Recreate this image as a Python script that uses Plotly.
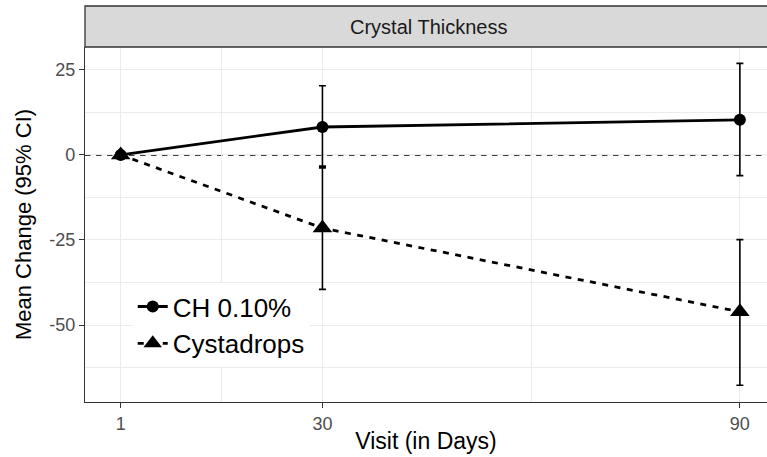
import plotly.graph_objects as go

visits = [1, 30, 90]
tick_labels = ["1", "30", "90"]

ch_name = "CH 0.10%"
ch_mean = [0.0, 8.2, 10.3]
ch_low = [0.0, -3.3, -6.1]
ch_high = [0.0, 20.3, 26.9]

cy_name = "Cystadrops"
cy_mean = [0.0, -21.5, -46.1]
cy_low = [0.0, -39.5, -67.7]
cy_high = [0.0, -3.8, -24.9]

y_ticks = [-50, -25, 0, 25]
y_minor = [-62.5, -37.5, -12.5, 12.5]
x_minor = [15.5, 60]

FONT = "Liberation Sans, Arial, sans-serif"


def err(mean, low, high):
    return dict(
        type="data", symmetric=False,
        array=[h - m for m, h in zip(mean, high)],
        arrayminus=[m - l for m, l in zip(mean, low)],
        color="black", thickness=1.6, width=3.5,
    )


fig = go.Figure()
fig.add_trace(go.Scatter(
    x=visits, y=ch_mean, name=ch_name, mode="lines+markers",
    line=dict(color="black", width=2.8),
    marker=dict(symbol="circle", size=12, color="black"),
    error_y=err(ch_mean, ch_low, ch_high),
))
fig.add_trace(go.Scatter(
    x=visits, y=cy_mean, name=cy_name, mode="lines+markers",
    line=dict(color="black", width=2.8, dash="6px,6.5px"),
    marker=dict(symbol="triangle-up", size=17, color="black"),
    error_y=err(cy_mean, cy_low, cy_high),
))

# reference line at zero
fig.add_shape(type="line", xref="paper", x0=0, x1=1, yref="y", y0=0, y1=0,
              line=dict(color="black", width=1.6, dash="5.5px,5.5px"), layer="below")

# facet strip
plot_h = 457 - 47 - 55
strip_h = 41
fig.add_shape(type="rect", xref="paper", yref="paper", x0=0, x1=1.02,
              y0=1, y1=1 + strip_h / plot_h,
              fillcolor="#D9D9D9", line=dict(color="#333333", width=1.3), layer="above")
fig.add_annotation(text="Crystal Thickness", xref="paper", yref="paper",
                   x=0.504, y=1 + strip_h / 2 / plot_h, showarrow=False,
                   font=dict(family=FONT, size=20, color="#1A1A1A"),
                   xanchor="center", yanchor="middle")

axis_common = dict(
    showgrid=True, gridcolor="#EBEBEB", gridwidth=1.4,
    zeroline=False, showline=True, linecolor="#333333", linewidth=1.3,
    ticks="outside", ticklen=5, tickwidth=1.3, tickcolor="#333333",
    tickfont=dict(family=FONT, size=18, color="#4D4D4D"),
)

fig.update_layout(
    width=767, height=457, autosize=False,
    margin=dict(l=85, r=0, t=47, b=55),
    paper_bgcolor="white", plot_bgcolor="white",
    font=dict(family=FONT, color="black"),
    xaxis=dict(
        range=[-4.13, 93.9], tickvals=visits, ticktext=tick_labels,
        minor=dict(tickvals=x_minor, showgrid=True, gridcolor="#EBEBEB", gridwidth=0.8, ticks=""),
        title=dict(text="Visit (in Days)", font=dict(family=FONT, size=23, color="black"), standoff=0),
        **axis_common,
    ),
    yaxis=dict(
        range=[-72.6, 31.7], tickvals=y_ticks, ticktext=[str(v) for v in y_ticks],
        minor=dict(tickvals=y_minor, showgrid=True, gridcolor="#EBEBEB", gridwidth=0.8, ticks=""),
        title=dict(text="Mean Change (95% CI)", font=dict(family=FONT, size=22, color="black"), standoff=11),
        **axis_common,
    ),
    legend=dict(
        x=0.07, y=0.335, xanchor="left", yanchor="top",
        bgcolor="white", borderwidth=0,
        font=dict(family=FONT, size=26, color="black"),
        itemwidth=30,
    ),
    showlegend=True,
)

fig.write_html("out.html")
